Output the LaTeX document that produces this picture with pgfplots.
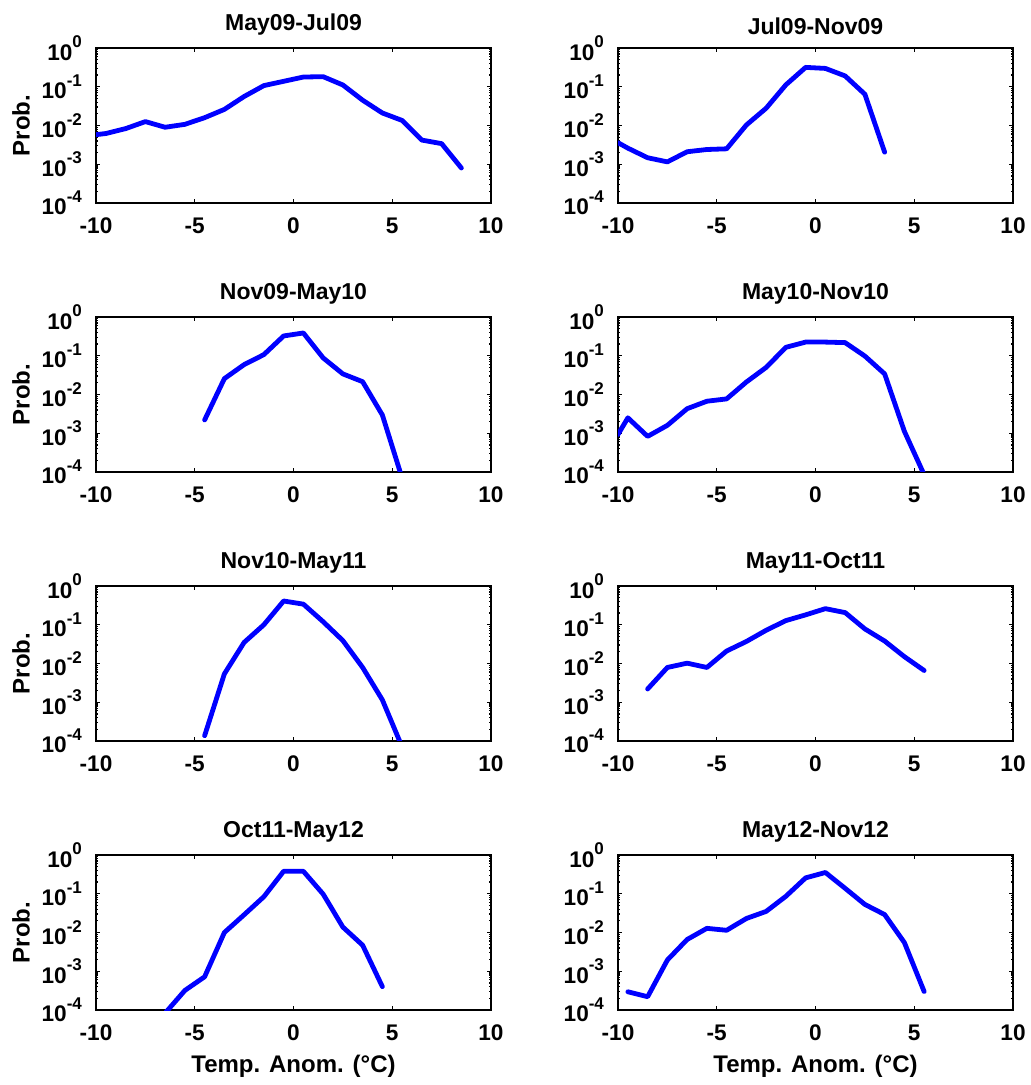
\documentclass[border=0pt]{standalone}
\usepackage{fontspec}
\setmainfont{Liberation Sans}
\usepackage{pgfplots}
\pgfplotsset{compat=1.18}
\newcommand{\pw}[1]{10\raisebox{0.55em}{\fontsize{8.5}{9}\selectfont #1}}
\pgfplotsset{
  mypanel/.style={
    scale only axis, width=197.5pt, height=77.5pt,
    anchor=south west,
    xmin=-10, xmax=10, ymin=1e-4, ymax=1,
    xtick={-10,-5,0,5,10}, xticklabels={-10,-5,0,5,10},
    ytick={1e-4,1e-3,1e-2,1e-1,1},
    yticklabels={\pw{-4},\pw{-3},\pw{-2},\pw{-1},\pw{0}},
    minor ytick={2e-4,3e-4,4e-4,5e-4,6e-4,7e-4,8e-4,9e-4,2e-3,3e-3,4e-3,5e-3,6e-3,7e-3,8e-3,9e-3,2e-2,3e-2,4e-2,5e-2,6e-2,7e-2,8e-2,9e-2,2e-1,3e-1,4e-1,5e-1,6e-1,7e-1,8e-1,9e-1},
    tick label style={font=\fontsize{11.3}{13}\selectfont\bfseries},
    xticklabel style={yshift=-4pt},
    yticklabel style={xshift=-3.5pt},
    title style={font=\fontsize{11.5}{13}\selectfont\bfseries, yshift=-3pt},
    axis line style={line width=1pt},
    major tick length=2pt, minor tick length=1pt,
    tick style={line width=0.6pt, black},
  },
  myleft/.style={ylabel={Prob.},
    ylabel style={at={(axis description cs:-0.19,0.5)}, anchor=center, font=\fontsize{12}{13}\selectfont\bfseries}},
  mybot/.style={xlabel={Temp. Anom. (°C)},
    xlabel style={at={(axis description cs:0.5,-0.36)}, anchor=center, font=\fontsize{12}{13}\selectfont\bfseries}},
}
\tikzset{bl/.style={color={rgb,255:red,0;green,0;blue,255}, line width=2.4pt, line join=round, line cap=round}}
\begin{document}
\begin{tikzpicture}
\path[use as bounding box] (0,0) rectangle (515.5pt,542.5pt);
% Row 1
\begin{semilogyaxis}[mypanel, myleft, at={(48pt,441pt)}, title={May09-Jul09}]
\addplot[bl] coordinates {(-10,5.8e-3) (-9.5,6.2e-3) (-8.5,8.3e-3) (-7.5,0.0126) (-6.5,0.0090) (-5.5,0.0107) (-4.5,0.0159) (-3.5,0.026) (-2.5,0.056) (-1.5,0.107) (-0.5,0.138) (0.5,0.178) (1.5,0.182) (2.5,0.111) (3.5,0.045) (4.5,0.021) (5.5,0.0135) (6.5,0.0042) (7.5,0.0034) (8.5,0.0008)};
\end{semilogyaxis}
\begin{semilogyaxis}[mypanel, at={(309pt,441pt)}, title={Jul09-Nov09}]
\addplot[bl] coordinates {(-10,3.6e-3) (-9.5,2.6e-3) (-8.5,1.47e-3) (-7.5,1.15e-3) (-6.5,2.1e-3) (-5.5,2.4e-3) (-4.5,2.5e-3) (-3.5,0.0103) (-2.5,0.0279) (-1.5,0.112) (-0.5,0.316) (0.5,0.297) (1.5,0.19) (2.5,0.064) (3.5,2.05e-3)};
\end{semilogyaxis}
% Row 2
\begin{semilogyaxis}[mypanel, myleft, at={(48pt,306.5pt)}, title={Nov09-May10}]
\addplot[bl] coordinates {(-4.5,2.2e-3) (-3.5,0.0257) (-2.5,0.059) (-1.5,0.107) (-0.5,0.324) (0.5,0.387) (1.5,0.088) (2.5,0.034) (3.5,0.0214) (4.5,2.95e-3) (5.5,6.9e-5)};
\end{semilogyaxis}
\begin{semilogyaxis}[mypanel, at={(309pt,306.5pt)}, title={May10-Nov10}]
\addplot[bl] coordinates {(-10,9.3e-4) (-9.5,2.5e-3) (-8.5,8.3e-4) (-7.5,1.6e-3) (-6.5,4.3e-3) (-5.5,6.7e-3) (-4.5,7.7e-3) (-3.5,0.021) (-2.5,0.050) (-1.5,0.165) (-0.5,0.225) (0.5,0.225) (1.5,0.218) (2.5,0.098) (3.5,0.034) (4.5,1.12e-3) (5.5,8.5e-5)};
\end{semilogyaxis}
% Row 3
\begin{semilogyaxis}[mypanel, myleft, at={(48pt,172pt)}, title={Nov10-May11}]
\addplot[bl] coordinates {(-4.5,1.37e-4) (-3.5,5.4e-3) (-2.5,0.035) (-1.5,0.10) (-0.5,0.41) (0.5,0.34) (1.5,0.12) (2.5,0.039) (3.5,7.9e-3) (4.5,1.15e-3) (5.5,7e-5)};
\end{semilogyaxis}
\begin{semilogyaxis}[mypanel, at={(309pt,172pt)}, title={May11-Oct11}]
\addplot[bl] coordinates {(-8.5,2.2e-3) (-7.5,7.9e-3) (-6.5,0.0102) (-5.5,7.9e-3) (-4.5,0.021) (-3.5,0.037) (-2.5,0.072) (-1.5,0.128) (-0.5,0.18) (0.5,0.26) (1.5,0.206) (2.5,0.078) (3.5,0.038) (4.5,0.015) (5.5,6.6e-3)};
\end{semilogyaxis}
% Row 4
\begin{semilogyaxis}[mypanel, myleft, mybot, at={(48pt,37.5pt)}, title={Oct11-May12}]
\addplot[bl] coordinates {(-6.5,8.3e-5) (-5.5,3.2e-4) (-4.5,7.2e-4) (-3.5,0.0100) (-2.5,0.0287) (-1.5,0.084) (-0.5,0.38) (0.5,0.38) (1.5,0.098) (2.5,0.0138) (3.5,4.7e-3) (4.5,4.0e-4)};
\end{semilogyaxis}
\begin{semilogyaxis}[mypanel, mybot, at={(309pt,37.5pt)}, title={May12-Nov12}]
\addplot[bl] coordinates {(-9.5,2.95e-4) (-8.5,2.2e-4) (-7.5,1.95e-3) (-6.5,6.6e-3) (-5.5,0.0128) (-4.5,0.0114) (-3.5,0.023) (-2.5,0.035) (-1.5,0.086) (-0.5,0.257) (0.5,0.354) (1.5,0.138) (2.5,0.053) (3.5,0.029) (4.5,5.5e-3) (5.5,3.0e-4)};
\end{semilogyaxis}
\end{tikzpicture}
\end{document}
